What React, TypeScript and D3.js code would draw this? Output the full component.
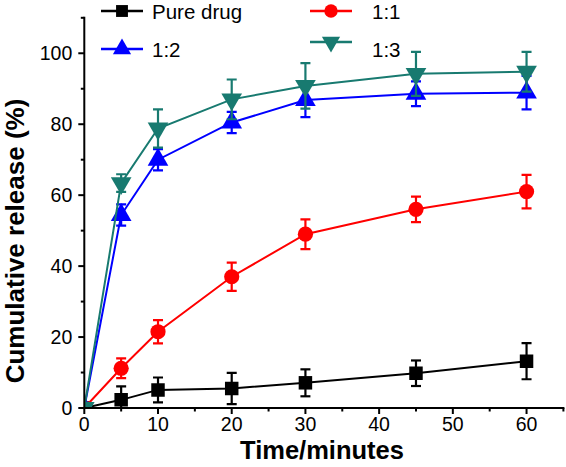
import React from "react";
import * as d3 from "d3";

const times = [0, 5, 10, 20, 30, 45, 60];
const seriesNames = ["Pure drug", "1:1", "1:2", "1:3"];
const pureDrug = [0, 2.3, 5.1, 5.5, 7.1, 9.8, 13.2];
const pureDrugErr = [0, 3.8, 3.5, 4.4, 3.8, 3.6, 5.1];
const ratio11 = [0, 11.2, 21.5, 37, 49, 56, 61];
const ratio11Err = [0, 2.8, 3.3, 4, 4.2, 3.6, 4.7];
const ratio12 = [0, 54.4, 70, 80.5, 86.8, 88.6, 88.9];
const ratio12Err = [0, 3, 3, 3, 4.8, 3.5, 4.7];
const ratio13 = [0, 63.4, 78.8, 87, 90.8, 94.2, 94.8];
const ratio13Err = [0, 2.5, 5.4, 5.6, 6.4, 6.2, 5.6];
const xMajorTicks = [0, 10, 20, 30, 40, 50, 60];
const xMinorTicks = [5, 15, 25, 35, 45, 55, 65];
const yMajorTicks = [0, 20, 40, 60, 80, 100];
const yMinorTicks = [10, 30, 50, 70, 90, 110];

const FONT = "'Liberation Sans', Arial, Helvetica, sans-serif";

type Sym = "square" | "circle" | "up" | "down";
const styles: { color: string; sym: Sym }[] = [
  { color: "#000000", sym: "square" },
  { color: "#ff0000", sym: "circle" },
  { color: "#0000ff", sym: "up" },
  { color: "#187a70", sym: "down" },
];
const values = [pureDrug, ratio11, ratio12, ratio13];
const errors = [pureDrugErr, ratio11Err, ratio12Err, ratio13Err];

function symbolPath(sym: Sym, scale = 1): { d: string; rot: number } {
  if (sym === "square") return { d: d3.symbol(d3.symbolSquare, 182 * scale * scale)() || "", rot: 0 };
  if (sym === "circle") return { d: d3.symbol(d3.symbolCircle, Math.PI * 7.6 * 7.6 * scale * scale)() || "", rot: 0 };
  const tri = d3.symbol(d3.symbolTriangle, 185 * scale * scale)() || "";
  return { d: tri, rot: sym === "down" ? 180 : 0 };
}

export default function App() {
  const W = 566;
  const H = 467;
  const x = d3.scaleLinear().domain([0, 65]).range([84.3, 563.4]);
  const y = d3.scaleLinear().domain([0, 110]).range([408, 17.8]);
  const line = d3
    .line<number>()
    .x((_, i) => x(times[i]))
    .y((d) => y(d));

  const x0 = x(0);
  const y0 = y(0);

  return (
    <svg
      width={W}
      height={H}
      style={{ position: "absolute", left: 0, top: 0, background: "#fff" }}
      fontFamily={FONT}
    >
      <defs>
        <clipPath id="plot">
          <rect x={x0} y={y(110)} width={x(65) - x0} height={y0 - y(110)} />
        </clipPath>
      </defs>
      <rect width={W} height={H} fill="#fff" />
      <g clipPath="url(#plot)">
        {values.map((vals, si) => {
          const st = styles[si];
          const sp = symbolPath(st.sym);
          return (
            <g key={si}>
              <path d={line(vals) || ""} fill="none" stroke={st.color} strokeWidth={2} />
              {vals.map((v, i) =>
                errors[si][i] > 0 ? (
                  <g key={"e" + i} stroke={st.color} strokeWidth={2.2}>
                    <line x1={x(times[i])} x2={x(times[i])} y1={y(v - errors[si][i])} y2={y(v + errors[si][i])} />
                    <line x1={x(times[i]) - 5} x2={x(times[i]) + 5} y1={y(v - errors[si][i])} y2={y(v - errors[si][i])} />
                    <line x1={x(times[i]) - 5} x2={x(times[i]) + 5} y1={y(v + errors[si][i])} y2={y(v + errors[si][i])} />
                  </g>
                ) : null
              )}
              {vals.map((v, i) => (
                <path
                  key={"m" + i}
                  d={sp.d}
                  fill={st.color}
                  transform={`translate(${x(times[i])},${y(v)}) rotate(${sp.rot})`}
                />
              ))}
            </g>
          );
        })}
      </g>

      {/* axes */}
      <g stroke="#000" strokeWidth={2} fill="none">
        <line x1={x0} x2={x0} y1={y(110) - 1} y2={y0 + 1} />
        <line x1={x0 - 1} x2={x(65) + 1} y1={y0} y2={y0} />
        {yMajorTicks.map((t) => (
          <line key={"ym" + t} x1={x0 - 6} x2={x0} y1={y(t)} y2={y(t)} />
        ))}
        {yMinorTicks.map((t) => (
          <line key={"yn" + t} x1={x0 - 3.5} x2={x0} y1={y(t)} y2={y(t)} />
        ))}
        {xMajorTicks.map((t) => (
          <line key={"xm" + t} x1={x(t)} x2={x(t)} y1={y0} y2={y0 + 6} />
        ))}
        {xMinorTicks.map((t) => (
          <line key={"xn" + t} x1={x(t)} x2={x(t)} y1={y0} y2={y0 + 3.5} />
        ))}
      </g>
      <g fontSize={19.5} fill="#000">
        {yMajorTicks.map((t) => (
          <text key={"yl" + t} x={x0 - 12} y={y(t)} dy="0.36em" textAnchor="end">
            {t}
          </text>
        ))}
        {xMajorTicks.map((t) => (
          <text key={"xl" + t} x={x(t)} y={430.5} textAnchor="middle">
            {t}
          </text>
        ))}
      </g>
      <text x={322} y={459} textAnchor="middle" fontSize={25.5} fontWeight="bold">
        Time/minutes
      </text>
      <text
        transform={`translate(24,241) rotate(-90)`}
        textAnchor="middle"
        fontSize={26}
        fontWeight="bold"
      >
        Cumulative release (%)
      </text>

      {/* legend */}
      {seriesNames.map((name, si) => {
        const st = styles[si];
        const col = si % 2;
        const row = Math.floor(si / 2);
        const lx = col === 0 ? 101 : 310;
        const lineY = row === 0 ? 11 : si === 2 ? 49 : 42;
        const tx = col === 0 ? 152 : 372;
        const ty = row === 0 ? 19 : 56.5;
        const sp = symbolPath(st.sym, 0.88);
        return (
          <g key={"lg" + si}>
            <line x1={lx} x2={lx + 42} y1={lineY} y2={lineY} stroke={st.color} strokeWidth={2.5} />
            <path d={sp.d} fill={st.color} transform={`translate(${lx + 21},${lineY}) rotate(${sp.rot})`} />
            <text x={tx} y={ty} fontSize={20.5} fill="#000">
              {name}
            </text>
          </g>
        );
      })}
    </svg>
  );
}
